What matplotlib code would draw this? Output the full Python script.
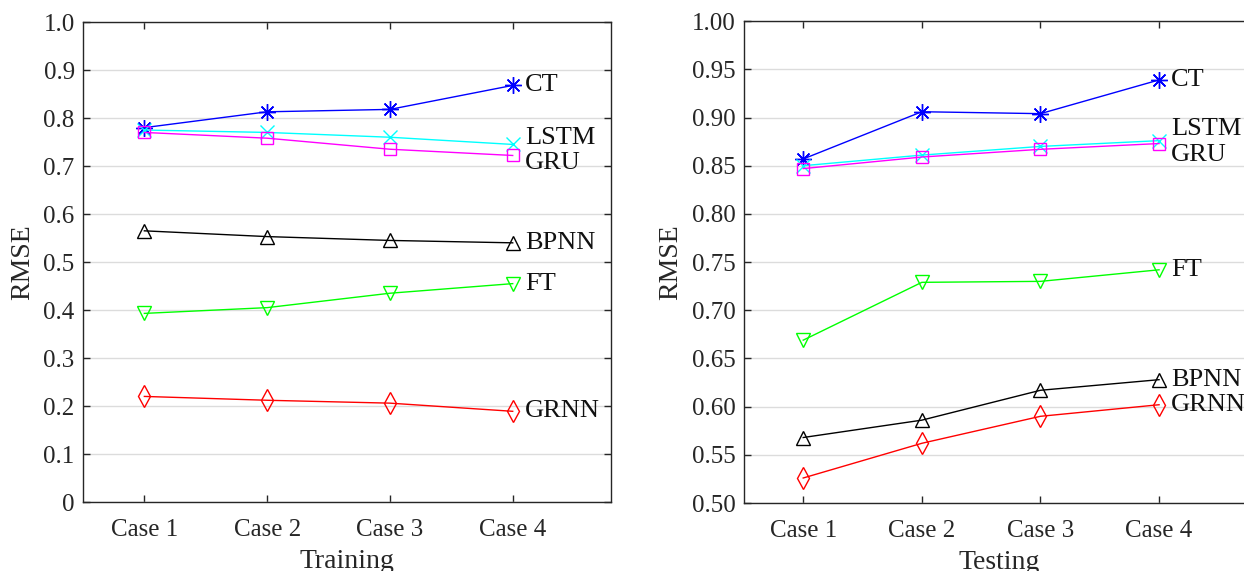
import matplotlib
matplotlib.use("Agg")
import matplotlib.pyplot as plt

# Data
cases = ["Case 1", "Case 2", "Case 3", "Case 4"]
models = ["CT", "LSTM", "GRU", "BPNN", "FT", "GRNN"]

train_ct = [0.780, 0.813, 0.818, 0.868]
train_lstm = [0.775, 0.770, 0.760, 0.745]
train_gru = [0.770, 0.758, 0.735, 0.722]
train_bpnn = [0.565, 0.553, 0.545, 0.540]
train_ft = [0.393, 0.405, 0.435, 0.455]
train_grnn = [0.220, 0.212, 0.206, 0.189]

test_ct = [0.857, 0.906, 0.904, 0.939]
test_lstm = [0.850, 0.861, 0.870, 0.876]
test_gru = [0.847, 0.859, 0.867, 0.873]
test_bpnn = [0.568, 0.586, 0.617, 0.628]
test_ft = [0.669, 0.729, 0.730, 0.742]
test_grnn = [0.526, 0.562, 0.590, 0.602]

# Styles (MATLAB-like colours and markers)
styles = {
    "CT": dict(color=(0, 0, 1), marker=(8, 2, 0), ms=12),
    "LSTM": dict(color=(0, 1, 1), marker="x", ms=10),
    "GRU": dict(color=(1, 0, 1), marker="s", ms=9),
    "BPNN": dict(color=(0, 0, 0), marker="^", ms=10),
    "FT": dict(color=(0, 1, 0), marker="v", ms=10),
    "GRNN": dict(color=(1, 0, 0), marker="d", ms=11),
}

plt.rcParams["font.family"] = ["Liberation Serif", "DejaVu Serif"]

fig = plt.figure(figsize=(12.44, 5.71), dpi=100)
ax1 = fig.add_axes([0.0667, 0.1208, 0.4244, 0.8406])
ax2 = fig.add_axes([0.598, 0.119, 0.41, 0.844])


def draw(ax, series, label_dy, ylim, yticks, yticklabels, xlabel):
    x = list(range(1, len(cases) + 1))
    for name, vals in zip(models, series):
        st = styles[name]
        ax.plot(x, vals, color=st["color"], lw=1.0, marker=st["marker"],
                markersize=st["ms"], markerfacecolor="none",
                markeredgecolor=st["color"], markeredgewidth=1.0, zorder=3)
        ax.text(x[-1] + 0.1, vals[-1] + label_dy.get(name, 0), name,
                fontsize=19, va="center", ha="left", color="#111111")
    ax.set_xlim(0.5, 4.8)
    ax.set_ylim(*ylim)
    ax.set_xticks(x)
    ax.set_xticklabels(cases)
    ax.set_yticks(yticks)
    ax.set_yticklabels(yticklabels)
    ax.yaxis.grid(True, color="#dcdcdc", lw=1.0)
    ax.set_axisbelow(True)
    ax.tick_params(direction="in", length=5, width=1.0, color="#262626",
                   labelsize=18, labelcolor="#262626", top=True, right=True)
    ax.tick_params(axis="x", pad=12)
    ax.tick_params(axis="y", pad=6)
    for sp in ax.spines.values():
        sp.set_color("#262626")
        sp.set_linewidth(1.0)
    ax.set_ylabel("RMSE", fontsize=20, color="#262626", labelpad=6)
    ax.set_xlabel(xlabel, fontsize=20, color="#262626", labelpad=6)


train = [train_ct, train_lstm, train_gru, train_bpnn, train_ft, train_grnn]
test = [test_ct, test_lstm, test_gru, test_bpnn, test_ft, test_grnn]

yt1 = [i / 10 for i in range(11)]
draw(ax1, train, {"LSTM": 0.013, "GRU": -0.016}, (0, 1.0), yt1,
     ["0"] + [f"{v:.1f}" for v in yt1[1:]], "Training")

yt2 = [0.5 + i * 0.05 for i in range(11)]
draw(ax2, test, {"LSTM": 0.012, "GRU": -0.012}, (0.5, 1.0), yt2,
     [f"{v:.2f}" for v in yt2], "Testing")

fig.savefig("out.png", dpi=100)
